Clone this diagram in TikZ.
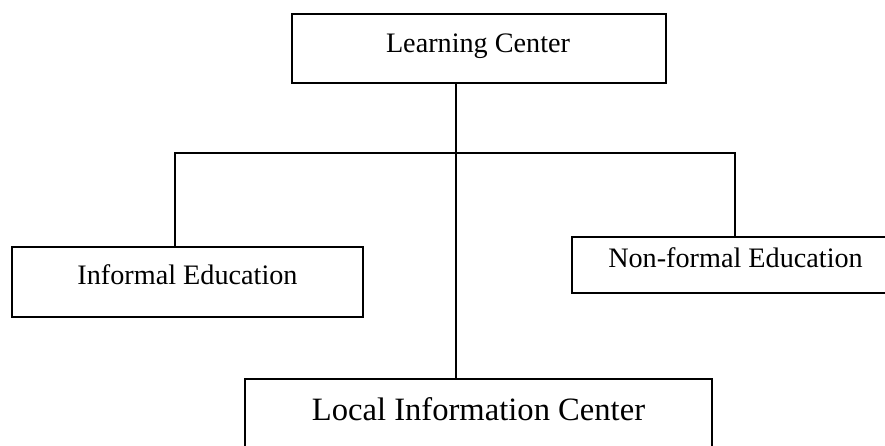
\documentclass[tikz,border=0pt]{standalone}
\usepackage{fontspec}
\setmainfont{Liberation Serif}
\begin{document}
\begin{tikzpicture}[x=1pt,y=-1pt,
  box/.style={draw=black, line width=1.6pt, inner sep=0pt, fill=none},
  lbl/.style={anchor=base, inner sep=0pt, font=\fontsize{28.2}{34}\selectfont},
  biglbl/.style={anchor=base, inner sep=0pt, font=\fontsize{32.6}{39}\selectfont},
  link/.style={draw=black, line width=1.6pt}]
\useasboundingbox (0,0) rectangle (885,445);
\clip (0,0) rectangle (885,445);
% boxes
\node[box, minimum width=374pt, minimum height=69pt] (lc) at (479,48.5) {};
\node[box, minimum width=351pt, minimum height=70pt] (inf) at (187.5,282) {};
\node[box, minimum width=327pt, minimum height=56pt] (nf) at (735.5,265) {};
\node[box, minimum width=467pt, minimum height=90pt] (loc) at (478.5,424) {};
% labels
\node[lbl] (lcT) at (478,52) {Learning Center};
\node[lbl] (infT) at (187.5,284) {Informal Education};
\node[lbl] (nfT) at (735.5,267) {Non-formal Education};
\node[biglbl] (locT) at (478.5,420) {Local Information Center};
% junctions
\coordinate (hub) at (456,153);
\coordinate (jl) at (175,153);
\coordinate (jr) at (735,153);
% connectors
\draw[link] (lc.south -| hub) -- (loc.north -| hub);
\draw[link] (inf.north -| jl) -- (jl) -- (jr) -- (nf.north -| jr);
\end{tikzpicture}
\end{document}
